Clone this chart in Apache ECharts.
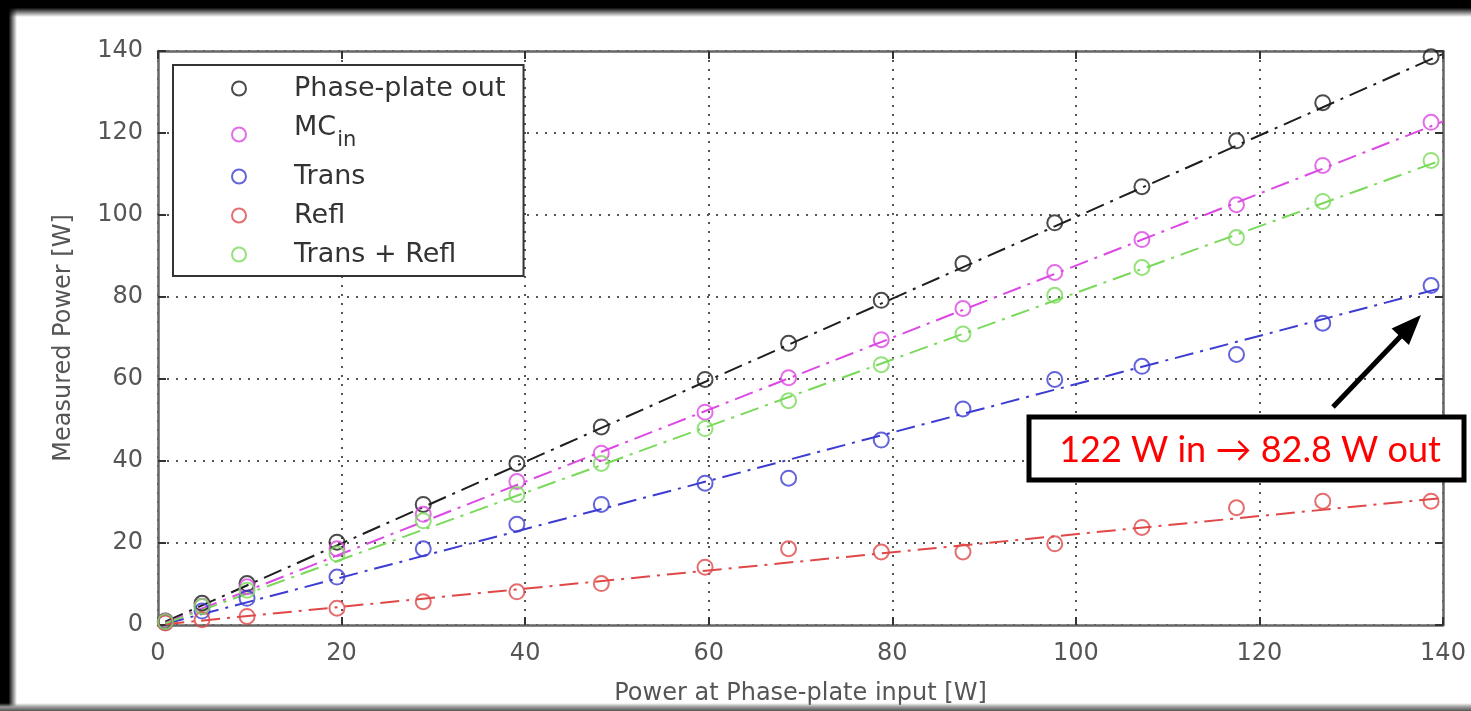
<!DOCTYPE html>
<html>
<head>
<meta charset="utf-8">
<title>Measured power vs phase-plate input</title>
<script src="https://cdn.jsdelivr.net/npm/echarts@6/dist/echarts.min.js"></script>
<style>
  html, body { margin: 0; padding: 0; background: #fff; }
  #chart { width: 1471px; height: 711px; }
</style>
</head>
<body>
<div id="chart"></div>
<script>
// power at phase-plate input [W]
var powerIn = [0.8, 4.8, 9.7, 19.5, 28.9, 39.1, 48.3, 59.6, 68.7, 78.8, 87.7, 97.7, 107.2, 117.5, 126.9, 138.7];

// measured power [W]
var phasePlateOut = [1.0, 5.3, 10.1, 20.2, 29.4, 39.4, 48.3, 59.9, 68.7, 79.2, 88.2, 98.1, 106.9, 118.1, 127.4, 138.6];
var mcIn = [0.9, 4.6, 9.3, 18.6, 27.0, 35.0, 41.9, 51.9, 60.3, 69.6, 77.2, 86.0, 94.0, 102.5, 112.1, 122.6];
var transRefl = [0.8, 4.5, 8.5, 17.3, 25.4, 31.8, 39.4, 47.9, 54.7, 63.5, 71.0, 80.4, 87.2, 94.5, 103.3, 113.3];
var trans = [0.6, 3.4, 6.5, 11.7, 18.6, 24.6, 29.4, 34.6, 35.8, 45.1, 52.7, 59.9, 63.1, 66.0, 73.6, 82.8];
var refl = [0.5, 1.3, 2.1, 4.1, 5.7, 8.1, 10.1, 14.1, 18.6, 17.8, 17.8, 19.8, 23.8, 28.6, 30.2, 30.2];

// linear fits, start and end
var fitX = [0.8, 140];
var fitPhasePlateOut = [0.8, 139.3];
var fitMcIn = [0.5, 122.8];
var fitTransRefl = [0.4, 113.5];
var fitTrans = [0.3, 82.3];
var fitRefl = [0.2, 31.0];

var axisTicks = [0, 20, 40, 60, 80, 100, 120, 140];

var FONT = 'DejaVu Sans';

function pairs(xs, ys) {
  return xs.map(function (x, i) { return [x, ys[i]]; });
}

var groups = [
  { name: 'Phase-plate out', color: '#1e1e1e', pts: phasePlateOut, fit: fitPhasePlateOut },
  { name: 'MCin', color: '#dc48e4', pts: mcIn, fit: fitMcIn },
  { name: 'Trans', color: '#3c3cd2', pts: trans, fit: fitTrans },
  { name: 'Refl', color: '#e04848', pts: refl, fit: fitRefl },
  { name: 'Trans + Refl', color: '#7ad95a', pts: transRefl, fit: fitTransRefl }
];

var series = [];
groups.forEach(function (g) {
  series.push({
    type: 'line',
    data: pairs(fitX, g.fit),
    showSymbol: false,
    silent: true,
    z: 2,
    lineStyle: { color: g.color, width: 2, type: [19, 7, 3, 7] }
  });
});
groups.forEach(function (g) {
  series.push({
    name: g.name,
    type: 'scatter',
    data: pairs(powerIn, g.pts),
    symbol: 'circle',
    symbolSize: 15,
    z: 3,
    itemStyle: { color: 'rgba(0,0,0,0)', borderColor: g.color, borderWidth: 2 }
  });
});

var chart = echarts.init(document.getElementById('chart'));

var axisLineStyle = { color: '#666', width: 2.5 };
var tickStyle = { show: true, inside: true, length: 8, lineStyle: { color: '#333', width: 2 } };

chart.setOption({
  animation: false,
  backgroundColor: '#fff',
  grid: { left: 158, right: 28, top: 51, bottom: 79 },
  legend: {
    data: groups.map(function (g) { return g.name; }),
    orient: 'vertical',
    left: 173,
    top: 65,
    padding: [10, 18, 8, 58],
    itemWidth: 100,
    itemHeight: 14,
    itemGap: 12,
    icon: 'circle',
    selectedMode: false,
    backgroundColor: '#fff',
    borderColor: '#333',
    borderWidth: 2,
    borderRadius: 0,
    formatter: function (name) {
      return name === 'MCin' ? '{b|MC}{s|in}' : name;
    },
    textStyle: {
      fontFamily: FONT,
      fontSize: 27,
      color: '#333',
      rich: {
        b: { fontFamily: FONT, fontSize: 27, color: '#333', padding: [0, 0, 14, 0] },
        s: { fontFamily: FONT, fontSize: 21, lineHeight: 21, color: '#333', padding: [12, 0, 0, 1] }
      }
    }
  },
  xAxis: [{
    type: 'value',
    min: 0, max: 140, interval: 20,
    name: 'Power at Phase-plate input [W]',
    nameLocation: 'middle',
    nameGap: 57,
    nameTextStyle: { fontFamily: FONT, fontSize: 24, color: '#555' },
    axisLine: { show: true, lineStyle: axisLineStyle },
    axisTick: tickStyle,
    axisLabel: {
      fontFamily: FONT, fontSize: 24, color: '#555', margin: 17,
      formatter: function (v) { return axisTicks.indexOf(v) >= 0 ? String(v) : ''; }
    },
    splitLine: { show: true, lineStyle: { color: '#555', width: 2, type: [2, 7] } }
  }, {
    type: 'value',
    position: 'top',
    min: 0, max: 140, interval: 20,
    axisLine: { show: true, onZero: false, lineStyle: axisLineStyle },
    axisTick: tickStyle,
    axisLabel: { show: false },
    splitLine: { show: false }
  }],
  yAxis: [{
    type: 'value',
    min: 0, max: 140, interval: 20,
    name: 'Measured Power [W]',
    nameLocation: 'middle',
    nameGap: 82,
    nameTextStyle: { fontFamily: FONT, fontSize: 24, color: '#555' },
    axisLine: { show: true, lineStyle: axisLineStyle },
    axisTick: tickStyle,
    axisLabel: { fontFamily: FONT, fontSize: 24, color: '#555', margin: 15 },
    splitLine: { show: true, lineStyle: { color: '#555', width: 2, type: [2, 7] } }
  }, {
    type: 'value',
    position: 'right',
    min: 0, max: 140, interval: 20,
    axisLine: { show: true, onZero: false, lineStyle: axisLineStyle },
    axisTick: tickStyle,
    axisLabel: { show: false },
    splitLine: { show: false }
  }],
  series: series
});

// slide annotation: arrow + boxed note
var tail = [1333, 407];
var tip = [1421, 315];
var dx = tip[0] - tail[0], dy = tip[1] - tail[1];
var len = Math.sqrt(dx * dx + dy * dy);
var ux = dx / len, uy = dy / len;
var headLen = 30, headHalf = 12;
var bx = tip[0] - ux * headLen, by = tip[1] - uy * headLen;

chart.setOption({
  graphic: [
    {
      type: 'line', z: 50,
      shape: { x1: tail[0], y1: tail[1], x2: bx + ux * 4, y2: by + uy * 4 },
      style: { stroke: '#000', lineWidth: 5 }
    },
    {
      type: 'polygon', z: 50,
      shape: { points: [tip, [bx - uy * headHalf, by + ux * headHalf], [bx + uy * headHalf, by - ux * headHalf]] },
      style: { fill: '#000' }
    },
    {
      type: 'rect', z: 50,
      shape: { x: 1029, y: 417, width: 435, height: 63 },
      style: { fill: '#fff', stroke: '#000', lineWidth: 5 }
    },
    {
      type: 'text', z: 51,
      x: 1250, y: 450,
      style: {
        text: '122 W in \u2192 82.8 W out',
        fontFamily: 'Lato', fontSize: 36, fill: '#ff0000',
        align: 'center', verticalAlign: 'middle'
      }
    },
    // dark slide frame
    {
      type: 'rect', z: 100, silent: true,
      shape: { x: 0, y: 0, width: 1471, height: 17 },
      style: {
        fill: new echarts.graphic.LinearGradient(0, 0, 0, 1, [
          { offset: 0, color: '#000' }, { offset: 0.45, color: '#000' }, { offset: 1, color: 'rgba(0,0,0,0)' }
        ])
      }
    },
    {
      type: 'rect', z: 100, silent: true,
      shape: { x: 0, y: 0, width: 17, height: 711 },
      style: {
        fill: new echarts.graphic.LinearGradient(0, 0, 1, 0, [
          { offset: 0, color: '#000' }, { offset: 0.5, color: '#000' }, { offset: 1, color: 'rgba(0,0,0,0)' }
        ])
      }
    },
    {
      type: 'rect', z: 100, silent: true,
      shape: { x: 0, y: 703, width: 1471, height: 8 },
      style: {
        fill: new echarts.graphic.LinearGradient(0, 0, 0, 1, [
          { offset: 0, color: 'rgba(150,150,150,0)' }, { offset: 0.5, color: '#999' }, { offset: 1, color: '#555' }
        ])
      }
    }
  ]
});
</script>
</body>
</html>
